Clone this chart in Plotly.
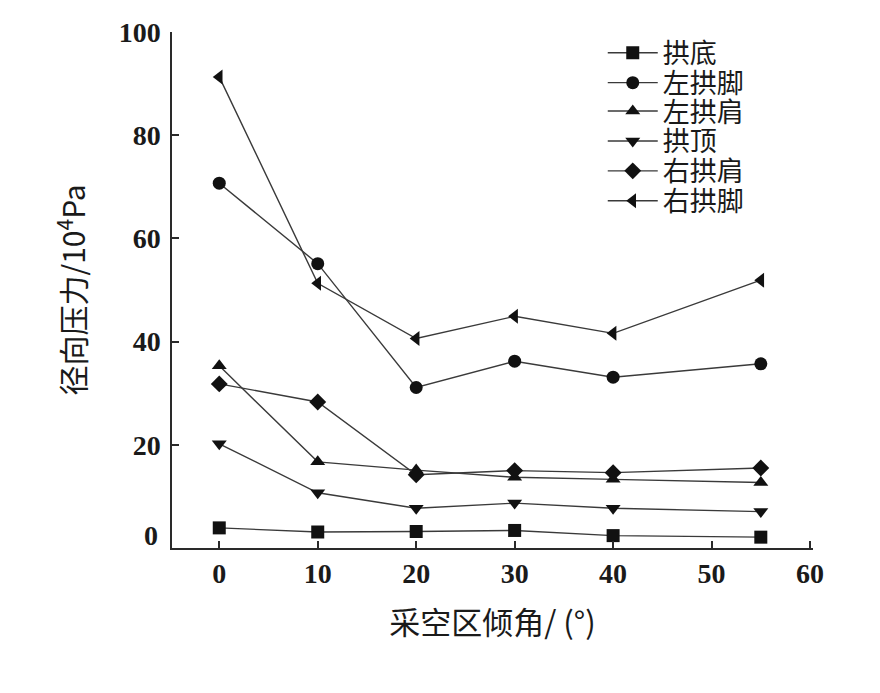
import plotly.graph_objects as go

# inclination of the goaf (deg) and radial pressure (10^4 Pa)
angle = [0, 10, 20, 30, 40, 55]
gongdi      = [3.9, 3.1, 3.2, 3.4, 2.4, 2.1]       # 拱底
zuo_gongjiao = [70.7, 55.1, 31.1, 36.2, 33.1, 35.7]  # 左拱脚
zuo_gongjian = [35.3, 16.7, 15.1, 13.7, 13.3, 12.7]  # 左拱肩
gongding    = [20.2, 10.7, 7.7, 8.7, 7.7, 7.05]     # 拱顶
you_gongjian = [31.8, 28.3, 14.2, 15.0, 14.6, 15.5]  # 右拱肩
you_gongjiao = [91.3, 51.3, 40.6, 44.9, 41.6, 51.9]  # 右拱脚

series = [
    ("拱底", gongdi, "square"),
    ("左拱脚", zuo_gongjiao, "circle"),
    ("左拱肩", zuo_gongjian, "triangle-up"),
    ("拱顶", gongding, "triangle-down"),
    ("右拱肩", you_gongjian, "diamond"),
    ("右拱脚", you_gongjiao, "triangle-left"),
]

x_ticks = [0, 10, 20, 30, 40, 50, 60]
y_ticks = [20, 40, 60, 80, 100]

NUM_FONT = dict(family="Liberation Serif", size=28, color="#1a1a1a")
CJK_FONT = "Noto Sans CJK SC"

# legend rows are packed tighter than plotly's default spacing,
# so each entry gets its own small legend box
LEG_X = 0.672
LEG_Y = [0.959, 0.901, 0.846, 0.788, 0.730, 0.672]

fig = go.Figure()
legends = {}
for i, (name, vals, sym) in enumerate(series):
    key = "legend" if i == 0 else f"legend{i + 1}"
    fig.add_scatter(x=angle, y=vals, mode="lines+markers", name=name, legend=key,
                    line=dict(color="#3a3a3a", width=1.4),
                    marker=dict(symbol=sym, size=13, color="#111111"))
    legends[key] = dict(x=LEG_X, y=LEG_Y[i], xanchor="left", yanchor="middle",
                        bgcolor="rgba(0,0,0,0)", itemwidth=50,
                        font=dict(family=CJK_FONT, size=27, color="#1a1a1a"))

# the "0" label sits a little above the axis in the original
fig.add_annotation(x=0, y=2.5, xref="paper", yref="y", text="<b>0</b>",
                   showarrow=False, xanchor="right", xshift=-12,
                   font=NUM_FONT)

fig.update_layout(
    width=872, height=685,
    margin=dict(l=164, r=67, t=24, b=145),
    plot_bgcolor="white", paper_bgcolor="white",
    showlegend=True,
    **legends,
    xaxis=dict(range=[-4.8, 60.3], tickvals=x_ticks, automargin=False,
               ticktext=[f"<b>{v}</b>" for v in x_ticks],
               showline=True, linecolor="#2a2a2a", linewidth=1.5,
               ticks="inside", ticklen=7, tickcolor="#2a2a2a", tickwidth=1.5,
               showgrid=False, zeroline=False, tickfont=NUM_FONT,
               title=dict(text="采空区倾角/ (°)", standoff=24,
                          font=dict(family=CJK_FONT, size=31, color="#1a1a1a"))),
    yaxis=dict(range=[0, 100], tickvals=y_ticks, automargin=False,
               ticktext=[f"<b>{v}</b>" for v in y_ticks], ticklabelstandoff=4,
               showline=True, linecolor="#2a2a2a", linewidth=1.5,
               ticks="inside", ticklen=7, tickcolor="#2a2a2a", tickwidth=1.5,
               showgrid=False, zeroline=False, tickfont=NUM_FONT,
               title=dict(text="径向压力/10<sup>4</sup>Pa", standoff=24,
                          font=dict(family=CJK_FONT, size=30, color="#1a1a1a"))),
)

fig.write_html("out.html")
